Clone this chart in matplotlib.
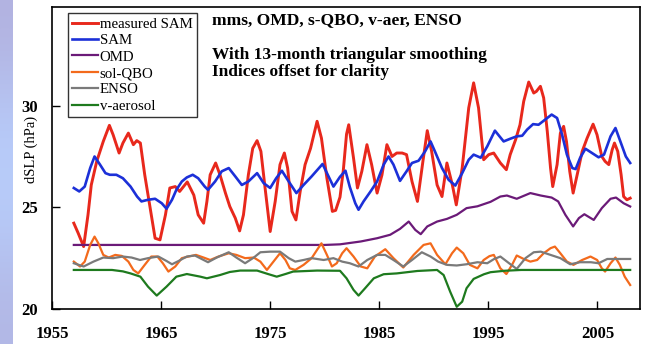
import numpy as np
import matplotlib
matplotlib.use('Agg')
import matplotlib.pyplot as plt

# measured SAM (red)
red_years = [1957.0, 1957.4, 1957.9, 1958.3, 1958.6, 1959.1, 1959.7, 1960.26, 1960.6, 1961.15,
             1961.5, 1962.0, 1962.46, 1962.77, 1963.1, 1963.5, 1964.0, 1964.45, 1964.9, 1965.4,
             1965.8, 1966.3, 1966.7, 1967.4, 1968.0, 1968.4, 1968.9, 1969.2, 1969.5, 1970.0,
             1970.4, 1970.9, 1971.3, 1971.8, 1972.2, 1972.55, 1973.0, 1973.4, 1973.8, 1974.15,
             1974.5, 1975.0, 1975.46, 1975.9, 1976.3, 1976.6, 1977.0, 1977.36, 1977.75, 1978.2,
             1978.7, 1979.3, 1979.7, 1980.2, 1980.7, 1981.0, 1981.4, 1981.7, 1982.0, 1982.2,
             1982.64, 1983.0, 1983.4, 1983.87, 1984.3, 1984.8, 1985.25, 1985.7, 1986.17, 1986.6,
             1987.1, 1987.5, 1988.0, 1988.5, 1989.0, 1989.4, 1989.8, 1990.3, 1990.75, 1991.2,
             1991.7, 1992.06, 1992.6, 1993.2, 1993.65, 1994.1, 1994.57, 1995.03, 1995.49, 1995.8,
             1996.1, 1996.65, 1997.0, 1997.5, 1997.9, 1998.24, 1998.7, 1999.16, 1999.4, 1999.77,
             2000.07, 2000.4, 2000.7, 2000.9, 2001.3, 2001.6, 2001.9, 2002.16, 2002.46, 2002.77,
             2003.14, 2003.6, 2004.05, 2004.6, 2004.96, 2005.4, 2005.7, 2006.04, 2006.35, 2006.56,
             2006.86, 2007.17, 2007.4, 2007.7, 2008.0]
red_vals = [24.22, 23.73, 23.07, 24.63, 26.1, 27.26, 28.24, 29.03, 28.57, 27.67,
            28.16, 28.65, 28.08, 28.28, 28.16, 26.6, 24.96, 23.48, 23.4, 24.63,
            25.95, 26.02, 25.78, 26.25, 25.6, 24.63, 24.22, 25.29, 26.6, 27.18,
            26.6, 25.7, 25.04, 24.47, 23.84, 24.63, 26.6, 27.9, 28.28, 27.75,
            26.1, 23.81, 25.29, 27.1, 27.67, 26.93, 24.8, 24.38, 25.78, 27.1,
            27.9, 29.23, 28.4, 26.43, 24.8, 24.85, 25.5, 26.8, 28.6, 29.06,
            27.42, 25.95, 26.77, 28.08, 27.1, 25.7, 26.6, 28.08, 27.5, 27.67,
            27.67, 27.59, 26.27, 25.29, 27.26, 28.77, 27.75, 26.1, 25.53, 27.18,
            26.1, 25.12, 26.93, 29.89, 31.12, 29.89, 27.34, 27.59, 27.67, 27.42,
            27.18, 26.85, 27.59, 28.33, 29.06, 30.21, 31.16, 30.62, 30.7, 30.95,
            30.38, 28.74, 26.93, 26.02, 27.1, 28.65, 28.98, 28.24, 26.77, 25.7,
            26.6, 27.75, 28.4, 29.09, 28.57, 27.5, 27.26, 27.1, 27.83, 28.16,
            27.75, 26.6, 25.53, 25.37, 25.45]

# SAM (blue)
blue_years = [1957.0, 1957.5, 1958.0, 1958.5, 1958.9, 1959.4, 1959.9, 1960.3, 1960.9, 1961.5,
              1962.2, 1962.8, 1963.2, 1963.8, 1964.45, 1965.06, 1965.5, 1966.0, 1966.4, 1966.9,
              1967.36, 1967.9, 1968.4, 1969.0, 1969.3, 1969.95, 1970.56, 1971.2, 1971.8, 1972.4,
              1973.0, 1973.8, 1974.4, 1975.0, 1975.55, 1976.07, 1976.7, 1977.4, 1978.06, 1978.8,
              1979.8, 1980.35, 1980.8, 1981.4, 1981.9, 1982.3, 1982.8, 1983.1, 1983.56, 1984.2,
              1984.8, 1985.4, 1985.85, 1986.3, 1986.9, 1987.5, 1988.0, 1988.6, 1989.2, 1989.7,
              1990.1, 1990.75, 1991.36, 1991.97, 1992.6, 1993.2, 1993.65, 1994.3, 1994.9, 1995.6,
              1996.4, 1997.0, 1997.6, 1998.1, 1998.55, 1999.1, 1999.6, 2000.2, 2000.8, 2001.3,
              2001.76, 2002.2, 2002.7, 2003.0, 2003.4, 2003.9, 2004.5, 2005.1, 2005.6, 2006.2,
              2006.65, 2007.1, 2007.6, 2008.0]
blue_vals = [25.95, 25.78, 26.02, 26.93, 27.5, 27.1, 26.68, 26.6, 26.6, 26.43,
             26.02, 25.53, 25.29, 25.37, 25.42, 25.2, 24.93, 25.37, 25.86, 26.27,
             26.47, 26.6, 26.43, 26.02, 25.86, 26.27, 26.77, 26.93, 26.52, 26.1,
             26.27, 26.68, 26.19, 25.95, 26.43, 26.8, 26.27, 25.7, 26.1, 26.52,
             27.13, 26.52, 26.02, 26.5, 26.8, 26.0, 25.2, 24.88, 25.29, 25.78,
             26.27, 27.1, 27.5, 27.1, 26.3, 26.77, 27.18, 27.29, 27.75, 28.24,
             27.75, 26.93, 26.35, 26.07, 26.68, 27.34, 27.59, 27.44, 28.0, 28.77,
             28.24, 28.37, 28.49, 28.52, 28.82, 29.09, 29.06, 29.31, 29.56, 29.39,
             28.57, 27.59, 26.93, 26.88, 27.42, 27.88, 27.67, 27.46, 27.59, 28.49,
             28.9, 28.24, 27.5, 27.18]

# OMD (purple)
omd_years = [1957.0, 1980.0, 1981.4, 1983.3, 1984.8, 1986.0, 1986.9, 1987.7, 1988.3, 1988.8,
             1989.4, 1990.3, 1991.2, 1992.1, 1993.0, 1994.0, 1995.2, 1996.1, 1996.7, 1997.6,
             1998.85, 1999.8, 2000.8, 2001.4, 2002.06, 2002.77, 2003.3, 2003.8, 2004.66, 2005.4,
             2006.2, 2006.7, 2007.4, 2008.0]
omd_vals = [23.15, 23.15, 23.18, 23.32, 23.48, 23.65, 23.94, 24.3, 23.89, 23.68,
            24.06, 24.3, 24.43, 24.63, 24.96, 25.05, 25.27, 25.53, 25.58, 25.42,
            25.7, 25.58, 25.48, 25.29, 24.63, 24.06, 24.47, 24.66, 24.38, 24.96,
            25.42, 25.48, 25.2, 25.04]

# sol-QBO (orange)
qbo_years = [1957.0, 1957.57, 1958.0, 1958.5, 1958.9, 1959.25, 1959.7, 1960.2, 1960.8, 1961.4,
             1962.0, 1962.46, 1962.9, 1963.5, 1964.1, 1964.66, 1965.16, 1965.67, 1966.3, 1966.9,
             1967.5, 1968.2, 1968.9, 1969.5, 1970.26, 1971.2, 1971.9, 1972.7, 1973.5, 1974.1,
             1974.7, 1975.3, 1975.9, 1976.4, 1976.8, 1977.3, 1978.06, 1978.8, 1979.3, 1979.7,
             1980.2, 1980.66, 1981.1, 1981.6, 1982.0, 1982.64, 1983.3, 1983.9, 1984.6, 1985.55,
             1986.3, 1987.2, 1988.15, 1989.06, 1989.7, 1990.3, 1991.06, 1991.67, 1992.1, 1992.7,
             1993.3, 1994.0, 1994.57, 1995.1, 1995.5, 1996.1, 1996.65, 1997.17, 1997.6, 1998.24,
             1998.85, 1999.47, 2000.07, 2000.7, 2001.1, 2001.6, 2002.2, 2002.8, 2003.6, 2004.36,
             2004.97, 2005.4, 2005.7, 2006.2, 2006.65, 2007.05, 2007.5, 2008.0]
qbo_vals = [22.33, 22.09, 22.33, 23.15, 23.56, 23.23, 22.66, 22.53, 22.66, 22.61,
            22.33, 21.92, 21.75, 22.17, 22.58, 22.58, 22.25, 21.84, 22.09, 22.5,
            22.58, 22.66, 22.53, 22.41, 22.58, 22.74, 22.66, 22.5, 22.53, 22.33,
            21.92, 22.33, 22.74, 22.41, 22.0, 21.92, 22.17, 22.5, 22.91, 23.23,
            22.66, 22.09, 22.25, 22.74, 22.99, 22.58, 22.09, 22.0, 22.58, 22.94,
            22.5, 22.04, 22.66, 23.15, 23.23, 22.66, 22.2, 22.74, 23.02, 22.74,
            22.17, 22.0, 22.41, 22.6, 22.66, 22.0, 21.72, 22.17, 22.63, 22.46,
            22.33, 22.41, 22.74, 22.99, 23.07, 22.74, 22.33, 22.17, 22.41, 22.58,
            22.41, 22.0, 21.84, 22.25, 22.53, 22.17, 21.59, 21.18]

# ENSO (gray)
enso_years = [1957.0, 1957.9, 1958.8, 1959.7, 1960.6, 1961.5, 1962.3, 1963.07, 1963.8, 1964.75,
              1965.5, 1966.0, 1966.6, 1967.36, 1968.1, 1968.9, 1969.3, 1970.1, 1971.2, 1971.9,
              1972.7, 1973.5, 1974.1, 1975.0, 1975.9, 1976.7, 1977.3, 1978.06, 1978.8, 1979.9,
              1980.8, 1981.6, 1982.3, 1983.1, 1983.9, 1984.8, 1985.55, 1986.3, 1987.2, 1988.0,
              1988.9, 1989.7, 1990.4, 1991.2, 1992.1, 1993.0, 1994.0, 1994.9, 1995.5, 1996.1,
              1996.9, 1997.6, 1998.4, 1999.16, 1999.8, 2000.7, 2001.6, 2002.5, 2003.4, 2004.4,
              2005.1, 2005.9, 2006.8, 2008.0]
enso_vals = [22.25, 22.09, 22.33, 22.53, 22.5, 22.58, 22.53, 22.41, 22.5, 22.58,
             22.36, 22.2, 22.36, 22.58, 22.63, 22.41, 22.3, 22.53, 22.79, 22.53,
             22.25, 22.53, 22.79, 22.82, 22.82, 22.5, 22.33, 22.41, 22.5, 22.41,
             22.5, 22.33, 22.25, 22.09, 22.41, 22.66, 22.66, 22.41, 22.09, 22.41,
             22.79, 22.58, 22.33, 22.17, 22.14, 22.2, 22.3, 22.25, 22.45, 22.58,
             22.25, 21.97, 22.5, 22.79, 22.82, 22.66, 22.5, 22.2, 22.3, 22.3,
             22.25, 22.46, 22.46, 22.46]

# v-aerosol (green)
aer_years = [1957.0, 1960.5, 1961.5, 1962.2, 1963.1, 1963.8, 1964.6, 1965.5, 1966.4, 1967.36,
             1968.6, 1969.2, 1970.4, 1971.3, 1972.25, 1973.8, 1974.8, 1975.6, 1976.4, 1977.1,
             1979.3, 1981.4, 1982.0, 1982.64, 1983.1, 1983.7, 1984.5, 1985.4, 1986.6, 1988.5,
             1990.3, 1990.9, 1991.5, 1992.1, 1992.6, 1993.0, 1993.65, 1994.6, 1995.2, 1996.5,
             1998.0, 2008.0]
aer_vals = [21.92, 21.92, 21.85, 21.75, 21.59, 21.1, 20.66, 21.1, 21.59, 21.72,
            21.59, 21.51, 21.67, 21.82, 21.89, 21.89, 21.72, 21.59, 21.72, 21.84,
            21.89, 21.88, 21.51, 20.94, 20.66, 21.02, 21.51, 21.71, 21.75, 21.87,
            21.92, 21.67, 20.85, 20.11, 20.36, 21.02, 21.48, 21.71, 21.81, 21.88,
            21.92, 21.92]

x_ticks = [1955, 1965, 1975, 1985, 1995, 2005]
y_ticks = [20, 25, 30]

serif = ['Liberation Serif', 'DejaVu Serif']
plt.rcParams['font.family'] = serif

fig = plt.figure(figsize=(6.53, 3.44), dpi=100)

# light blue / lavender strip on the left edge
strip = fig.add_axes([0, 0, 12 / 653, 1])
grad = np.array([[0.70, 0.70, 0.88], [0.72, 0.80, 0.98], [0.72, 0.80, 0.98], [0.70, 0.72, 0.90]])
strip.imshow(grad[:, None, :], aspect='auto', interpolation='bicubic', extent=[0, 1, 0, 1])
strip.axis('off')

ax = fig.add_axes([52 / 653, 1 - 309 / 344, 588 / 653, 302 / 344])

ax.plot(red_years, red_vals, color='#e8281c', lw=2.1, label='measured SAM')
ax.plot(blue_years, blue_vals, color='#1c30d8', lw=1.9, label='SAM')
ax.plot(omd_years, omd_vals, color='#6b1a78', lw=1.6, label='OMD')
ax.plot(qbo_years, qbo_vals, color='#f36a1c', lw=1.6, label='sol-QBO')
ax.plot(enso_years, enso_vals, color='#7a7a7a', lw=1.6, label='ENSO')
ax.plot(aer_years, aer_vals, color='#1e7a1e', lw=1.6, label='v-aerosol')

ax.set_xlim(1955, 2008.9)
ax.set_ylim(20, 34.85)
ax.set_xticks(x_ticks)
ax.set_yticks(y_ticks)
ax.tick_params(direction='in', length=6, width=1, labelsize=12)
ax.tick_params(axis='x', pad=12)
ax.tick_params(axis='y', pad=10)
for lbl in ax.get_xticklabels() + ax.get_yticklabels():
    lbl.set_fontweight('bold')
for sp in ax.spines.values():
    sp.set_linewidth(1.2)
ax.set_ylabel('dSLP (hPa)', fontsize=10.5)
ax.yaxis.set_label_coords(-0.024, 0.53)

leg = ax.legend(loc='upper left', bbox_to_anchor=(0.027, 0.98), borderaxespad=0,
                fontsize=10.7, frameon=True, fancybox=False, handlelength=1.7,
                handletextpad=0.15, labelspacing=0.2, borderpad=0.3)
leg.get_frame().set_edgecolor('black')
leg.get_frame().set_linewidth(1.0)

fig.text(212 / 653, 1 - 20 / 344, 'mms, OMD, s-QBO, v-aer, ENSO', fontsize=12.6,
         fontweight='bold', va='center', ha='left')
fig.text(212 / 653, 1 - 55 / 344, 'With 13-month triangular smoothing', fontsize=12.5,
         fontweight='bold', va='center', ha='left')
fig.text(212 / 653, 1 - 72 / 344, 'Indices offset for clarity', fontsize=12.5,
         fontweight='bold', va='center', ha='left')

fig.savefig('out.png', dpi=100)
